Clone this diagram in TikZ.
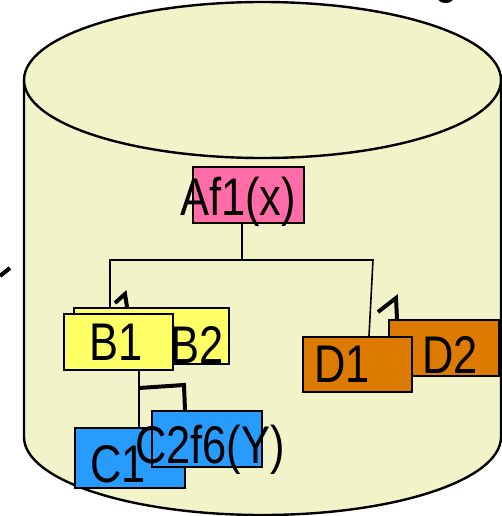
\documentclass[tikz,border=0pt]{standalone}
\usepackage{fontspec}
\setmainfont{Liberation Sans}
\usepackage{graphicx}
\definecolor{cylfill}{RGB}{243,243,201}
\definecolor{pinkc}{RGB}{255,108,168}
\definecolor{yellowc}{RGB}{255,255,102}
\definecolor{orangec}{RGB}{221,122,0}
\definecolor{bluec}{RGB}{40,155,255}
\newcommand{\sq}[1]{\scalebox{0.82}[1]{#1}}
\begin{document}
\begin{tikzpicture}[x=1pt,y=-1pt,
  box/.style={draw=black, line width=1.8pt, inner sep=0pt, anchor=north west},
  lbl/.style={anchor=base west, inner sep=0pt, font=\fontsize{53}{53}\selectfont},
  conn/.style={line width=1.6pt},
  thickmark/.style={line width=4pt},
  cyl/.style={line width=2.4pt}]
\useasboundingbox (0,0) rectangle (502,516);
% cylinder
\fill[cylfill] (24,80) rectangle (501,437);
\fill[cylfill] (262.5,437) ellipse [x radius=238.5, y radius=78];
\draw[cyl] (24,80) -- (24,437) arc [start angle=180, end angle=0, x radius=238.5, y radius=78] -- (501,80);
\draw[cyl, fill=cylfill] (262.5,80) ellipse [x radius=238.5, y radius=78];
% fragments at edges
\node[lbl] (gfrag) at (434,-7) {\sq{g}};
\draw[thickmark] (0,276) -- (10,268);
% connectors
\node[box, fill=pinkc, minimum width=111pt, minimum height=56pt] (A) at (192,166) {};
\coordinate (at) at (242,222);
\coordinate (bl) at (110,260);
\coordinate (br) at (373,260);
\coordinate (d1t) at (369,336);
\draw[conn] (at) -- (at |- bl);
\draw[conn] (110,308) -- (bl) -- (br) -- (d1t);
\node[lbl] (Atext) at (180,215) {\sq{Af1(x)}};
% B group
\node[box, fill=yellowc, minimum width=155pt, minimum height=56pt] (B2) at (73,307) {};
\node[lbl] (B2text) at (170,363) {\sq{B2}};
\node[box, fill=yellowc, minimum width=109pt, minimum height=56pt] (B1) at (63,313) {};
\node[lbl] (B1text) at (89,360) {\sq{B1}};
\draw[thickmark] (115,303) -- (125,294) -- (127,307);
% D group
\node[box, fill=orangec, minimum width=110pt, minimum height=56pt] (D2) at (388,319) {};
\node[lbl] (D2text) at (422,373) {\sq{D2}};
\node[box, fill=orangec, minimum width=109pt, minimum height=55pt] (D1) at (302,336) {};
\node[lbl] (D1text) at (314,382) {\sq{D1}};
\draw[thickmark] (378,312) -- (396,298) -- (397,319);
% C group
\coordinate (c1t) at (139,427);
\draw[conn] (139,369) -- (c1t);
\node[box, fill=bluec, minimum width=110pt, minimum height=60pt] (C1) at (74,427) {};
\node[lbl] (C1text) at (90,482) {\sq{C1}};
\node[box, fill=bluec, minimum width=110pt, minimum height=56pt] (C2) at (151,410) {};
\node[lbl] (C2text) at (135,463) {\sq{C2f6(Y)}};
\draw[thickmark] (139,388) -- (184,385) -- (185,410);
\end{tikzpicture}
\end{document}
